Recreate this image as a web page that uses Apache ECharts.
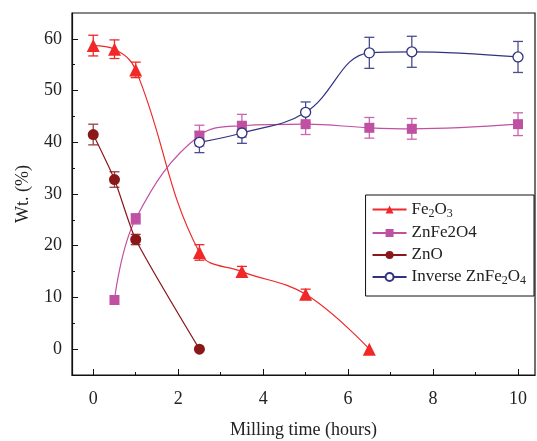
<!DOCTYPE html>
<html style="height: 100%">
<head>
    <meta charset="utf-8">
</head>
<body style="height: 100%; margin: 0; background: #fff">
    <div id="container" style="width: 537px; height: 441px"></div>
    <script src="https://cdn.jsdelivr.net/npm/echarts@6/dist/echarts.min.js"></script>
    <script type="text/javascript">
        var dom = document.getElementById("container");
        var myChart = echarts.init(dom);

        // data
        var fe2o3 = [[0, 58.7], [0.5, 58.0], [1, 54.0], [2.5, 18.7], [3.5, 15.0], [5, 10.6], [6.5, 0]];
        var fe2o3Err = [2.0, 1.8, 1.5, 1.5, 1.0, 1.0, 0];
        var znfe2o4 = [[0.5, 9.5], [1, 25.2], [2.5, 41.3], [3.5, 43.2], [5, 43.5], [6.5, 42.8], [7.5, 42.6], [10, 43.5]];
        var znfe2o4Err = [0, 1.0, 2.0, 2.2, 2.0, 2.0, 2.0, 2.2];
        var zno = [[0, 41.5], [0.5, 32.8], [1, 21.2], [2.5, 0]];
        var znoErr = [2.0, 1.5, 1.0, 0];
        var inverse = [[2.5, 40.0], [3.5, 41.8], [5, 45.8], [6.5, 57.3], [7.5, 57.5], [10, 56.5]];
        var inverseErr = [2.0, 2.0, 2.0, 3.0, 3.0, 3.0];

        var xMajor = [0, 2, 4, 6, 8, 10];
        var xMinor = [1, 3, 5, 7, 9];
        var yMajor = [0, 10, 20, 30, 40, 50, 60];
        var yMinor = [5, 15, 25, 35, 45, 55];

        var font = 'Liberation Serif';
        var cRed = '#f02828', cMag = '#c050a2', cZno = '#8a1818', cNavy = '#30337f';

        function errData(pts, err) {
            return pts.map(function (p, i) { return [p[0], p[1] - err[i], p[1] + err[i]]; })
                .filter(function (d, i) { return err[i] > 0; });
        }

        function errSeries(pts, err, color) {
            return {
                type: 'custom',
                xAxisIndex: 0, yAxisIndex: 0,
                z: 1,
                silent: true,
                data: errData(pts, err),
                renderItem: function (params, api) {
                    var x = api.value(0);
                    var lo = api.coord([x, api.value(1)]);
                    var hi = api.coord([x, api.value(2)]);
                    var w = 5;
                    var st = { stroke: color, lineWidth: 1.3 };
                    return {
                        type: 'group',
                        children: [
                            { type: 'line', shape: { x1: lo[0], y1: lo[1], x2: hi[0], y2: hi[1] }, style: st },
                            { type: 'line', shape: { x1: lo[0] - w, y1: lo[1], x2: lo[0] + w, y2: lo[1] }, style: st },
                            { type: 'line', shape: { x1: hi[0] - w, y1: hi[1], x2: hi[0] + w, y2: hi[1] }, style: st }
                        ]
                    };
                },
                encode: { x: 0, y: [1, 2] }
            };
        }

        var rich = {
            n: { fontFamily: font, fontSize: 17, color: '#222' },
            s: { fontFamily: font, fontSize: 12, color: '#222', padding: [0, 0, -8, 0] }
        };

        var axisLabelStyle = { fontFamily: font, fontSize: 18, color: '#222' };

        option = {
            animation: false,
            grid: {
                left: 72, top: 13, right: 2, bottom: 66,
                outerBoundsMode: 'none', containLabel: false,
                show: true, borderColor: '#111', borderWidth: 1.2
            },
            legend: {
                data: ['Fe2O3', 'ZnFe2O4', 'ZnO', 'Inverse ZnFe2O4'],
                orient: 'vertical',
                right: 3,
                top: 195,
                backgroundColor: '#fff',
                borderColor: '#111',
                borderWidth: 1,
                borderRadius: 0,
                padding: [6, 8, 9, 6],
                itemWidth: 34,
                itemHeight: 10,
                itemGap: 5,
                textStyle: { fontFamily: font, fontSize: 17, color: '#222', rich: rich },
                formatter: function (name) {
                    if (name === 'Fe2O3') return '{n|Fe}{s|2}{n|O}{s|3}';
                    if (name === 'Inverse ZnFe2O4') return '{n|Inverse ZnFe}{s|2}{n|O}{s|4}';
                    return '{n|' + name + '}';
                }
            },
            xAxis: [{
                type: 'value', min: -0.5, max: 10.4,
                name: 'Milling time (hours)', nameLocation: 'middle', nameGap: 46,
                nameTextStyle: { fontFamily: font, fontSize: 18, color: '#222' },
                axisLine: { onZero: false, lineStyle: { color: '#111', width: 1.2 } },
                axisTick: { inside: true, length: 6, customValues: xMajor, lineStyle: { color: '#111' } },
                axisLabel: Object.assign({ customValues: xMajor, margin: 15 }, axisLabelStyle),
                splitLine: { show: false }
            }, {
                type: 'value', min: -0.5, max: 10.4, position: 'bottom',
                axisLine: { show: false, onZero: false },
                axisTick: { inside: true, length: 3, customValues: xMinor, lineStyle: { color: '#111' } },
                axisLabel: { show: false },
                splitLine: { show: false }
            }],
            yAxis: [{
                type: 'value', min: -5, max: 65,
                name: 'Wt. (%)', nameLocation: 'middle', nameGap: 40,
                nameTextStyle: { fontFamily: font, fontSize: 18, color: '#222' },
                axisLine: { show: true, onZero: false, lineStyle: { color: '#111', width: 1.2 } },
                axisTick: { show: true, inside: true, length: 6, customValues: yMajor, lineStyle: { color: '#111' } },
                axisLabel: Object.assign({ customValues: yMajor, margin: 10 }, axisLabelStyle),
                splitLine: { show: false }
            }, {
                type: 'value', min: -5, max: 65, position: 'left',
                axisLine: { show: false, onZero: false },
                axisTick: { show: true, inside: true, length: 3, customValues: yMinor, lineStyle: { color: '#111' } },
                axisLabel: { show: false },
                splitLine: { show: false }
            }],
            series: [
                errSeries(fe2o3, fe2o3Err, cRed),
                errSeries(znfe2o4, znfe2o4Err, '#c866ae'),
                errSeries(zno, znoErr, '#964040'),
                errSeries(inverse, inverseErr, '#4a4d8f'),
                {
                    name: 'Fe2O3', type: 'line', data: fe2o3, smooth: 0.4, z: 3,
                    symbol: 'triangle', symbolSize: 13,
                    itemStyle: { color: cRed },
                    lineStyle: { color: cRed, width: 1.2 }
                },
                {
                    name: 'ZnFe2O4', type: 'line', data: znfe2o4, smooth: 0.4, z: 3,
                    symbol: 'rect', symbolSize: 10,
                    itemStyle: { color: cMag },
                    lineStyle: { color: cMag, width: 1.2 }
                },
                {
                    name: 'ZnO', type: 'line', data: zno, smooth: 0.2, z: 3,
                    symbol: 'circle', symbolSize: 11,
                    itemStyle: { color: cZno },
                    lineStyle: { color: cZno, width: 1.2 }
                },
                {
                    name: 'Inverse ZnFe2O4', type: 'line', data: inverse, smooth: 0.4, z: 3,
                    symbol: 'circle', symbolSize: 10,
                    itemStyle: { color: '#fff', borderColor: cNavy, borderWidth: 1.3 },
                    lineStyle: { color: cNavy, width: 1.2 }
                }
            ]
        };

        myChart.setOption(option);
    </script>
</body>
</html>
